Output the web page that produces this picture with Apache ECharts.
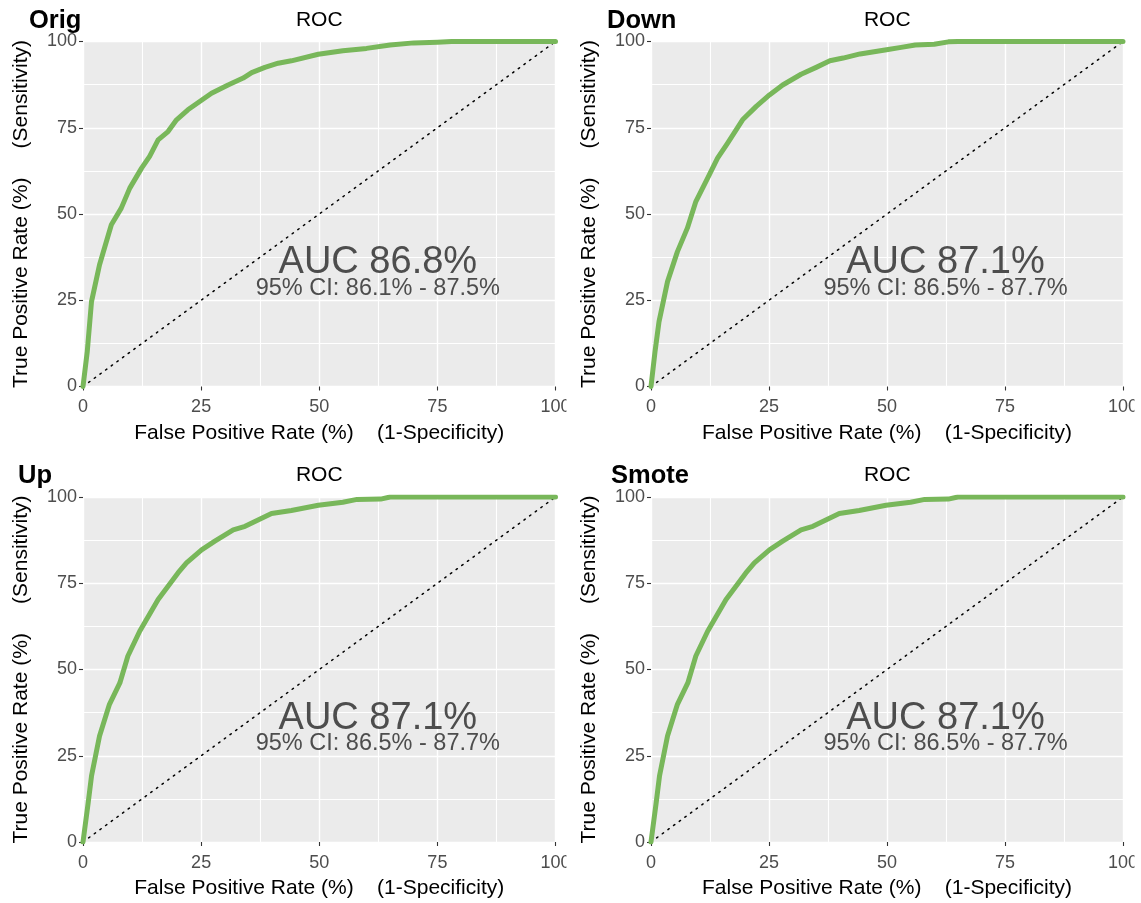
<!DOCTYPE html>
<html>
<head>
<meta charset="utf-8">
<title>ROC</title>
<script src="https://cdn.jsdelivr.net/npm/echarts@6/dist/echarts.min.js"></script>
<style>
  html, body { margin: 0; padding: 0; background: #fff; }
  #main { width: 1141px; height: 903px; }
</style>
</head>
<body>
<div id="main"></div>
<script>
// panel names and annotation texts
const panelNames = ['Orig', 'Down', 'Up', 'Smote'];
const aucText = ['AUC 86.8%', 'AUC 87.1%', 'AUC 87.1%', 'AUC 87.1%'];
const ciText = [
  '95% CI: 86.1% - 87.5%',
  '95% CI: 86.5% - 87.7%',
  '95% CI: 86.5% - 87.7%',
  '95% CI: 86.5% - 87.7%'
];
const tickValues = [0, 25, 50, 75, 100];

// ROC curves (false positive rate %, true positive rate %)
const origFpr = [0, 0.9, 1.8, 3.5, 6.0, 8.1, 9.9, 12.4, 14.1, 15.9, 18.0, 19.8, 22.2, 24.7, 27.2, 30.7, 33.9, 35.7, 38.5, 41.3, 44.1, 49.8, 55, 60, 65, 70, 75, 78, 100];
const origTpr = [0, 10.1, 24.6, 35.3, 46.9, 51.7, 57.5, 63.3, 66.7, 71.5, 73.9, 77.3, 80.2, 82.6, 85.0, 87.4, 89.4, 91.0, 92.5, 93.7, 94.4, 96.3, 97.3, 98.0, 99.0, 99.6, 99.8, 100, 100];

const downFpr = [0, 0.85, 1.7, 3.5, 5.6, 7.7, 9.5, 12.0, 14.1, 16.2, 19.4, 22.3, 25.1, 27.9, 31.8, 35.0, 37.9, 40.7, 44.3, 49.9, 53, 56, 60, 63, 65, 100];
const downTpr = [0, 10.1, 18.8, 30.4, 39.1, 45.9, 53.6, 60.4, 66.2, 70.5, 77.3, 81.2, 84.5, 87.4, 90.5, 92.5, 94.4, 95.2, 96.4, 97.6, 98.3, 99.0, 99.2, 99.9, 100, 100];

const upFpr = [0, 1.1, 1.8, 3.5, 5.6, 7.8, 9.5, 12.0, 15.9, 20.1, 21.9, 25.1, 27.9, 31.8, 34.3, 39.9, 44.1, 49.8, 55, 58, 63, 65, 100];
const upTpr = [0, 11.4, 19.1, 30.7, 39.9, 46.1, 53.9, 61.1, 70.3, 78.0, 80.9, 84.7, 87.2, 90.5, 91.5, 95.2, 96.1, 97.6, 98.5, 99.3, 99.4, 100, 100];

const smoteFpr = [0, 1.1, 1.8, 3.5, 5.6, 7.8, 9.5, 12.0, 15.9, 20.1, 21.9, 25.1, 27.9, 31.8, 34.3, 39.9, 44.1, 49.8, 55, 58, 63, 65, 100];
const smoteTpr = [0, 11.4, 19.1, 30.7, 39.9, 46.1, 53.9, 61.1, 70.3, 78.0, 80.9, 84.7, 87.2, 90.5, 91.5, 95.2, 96.1, 97.6, 98.5, 99.3, 99.4, 100, 100];

const curves = [
  [origFpr, origTpr],
  [downFpr, downTpr],
  [upFpr, upTpr],
  [smoteFpr, smoteTpr]
];

const FONT = '"Liberation Sans", Arial, sans-serif';
const GREEN = '#78B75A';

// layout of the 2x2 panels
const lefts = [83, 651];
const tops = [41.5, 497];
const W = 472.5;
const H = 345;
const tagLeft = [[29, 607], [18, 611]];

const grids = [], xAxes = [], yAxes = [], series = [], titles = [], graphics = [];

panelNames.forEach(function (name, i) {
  const col = i % 2, row = Math.floor(i / 2);
  const left = lefts[col], top = tops[row];
  grids.push({ left: left, top: top, width: W, height: H, show: true,
    backgroundColor: '#EBEBEB', borderWidth: 0 });

  const axisCommon = {
    gridIndex: i, type: 'value', min: tickValues[0], max: tickValues[tickValues.length - 1],
    interval: 25,
    axisLine: { show: false },
    axisTick: { show: true, length: 4, lineStyle: { color: '#333333', width: 1.1 } },
    splitLine: { show: true, lineStyle: { color: '#FFFFFF', width: 1.4 } },
    minorTick: { show: false, splitNumber: 2 },
    minorSplitLine: { show: true, lineStyle: { color: '#FFFFFF', width: 1.1 } },
    nameLocation: 'middle',
    nameTextStyle: { color: '#000', fontSize: 21, fontFamily: FONT },
    axisLabel: { color: '#4D4D4D', fontSize: 18, fontFamily: FONT }
  };

  xAxes.push(Object.assign({}, axisCommon, {
    name: 'False Positive Rate (%)    (1-Specificity)',
    nameGap: 36,
    axisLabel: Object.assign({}, axisCommon.axisLabel, { margin: 12 })
  }));
  yAxes.push(Object.assign({}, axisCommon, {
    name: 'True Positive Rate (%)     (Sensitivity)',
    nameGap: 51,
    axisLabel: Object.assign({}, axisCommon.axisLabel, { margin: 6 })
  }));

  // chance diagonal
  series.push({
    type: 'line', xAxisIndex: i, yAxisIndex: i, symbol: 'none', silent: true,
    data: [[tickValues[0], tickValues[0]], [tickValues[4], tickValues[4]]],
    lineStyle: { color: '#000', width: 1.5, type: [1.5, 5.5], cap: 'round' },
    z: 2
  });
  // ROC curve
  const fpr = curves[i][0], tpr = curves[i][1];
  series.push({
    type: 'line', xAxisIndex: i, yAxisIndex: i, symbol: 'none', silent: true,
    data: fpr.map(function (x, k) { return [x, tpr[k]]; }),
    lineStyle: { color: GREEN, width: 5, cap: 'round', join: 'round' },
    z: 3
  });
  // AUC annotation
  series.push({
    type: 'scatter', xAxisIndex: i, yAxisIndex: i, symbolSize: 0, silent: true,
    itemStyle: { opacity: 1 },
    data: [[62.4, 35.9]],
    label: { show: true, position: 'inside', formatter: aucText[i],
      color: '#4D4D4D', fontSize: 38, fontFamily: FONT },
    z: 4
  });
  series.push({
    type: 'scatter', xAxisIndex: i, yAxisIndex: i, symbolSize: 0, silent: true,
    itemStyle: { opacity: 1 },
    data: [[62.4, 28.5]],
    label: { show: true, position: 'inside', formatter: ciText[i],
      color: '#4D4D4D', fontSize: 23.5, fontFamily: FONT },
    z: 4
  });

  titles.push({
    text: 'ROC', left: left + W / 2, top: top - 32, textAlign: 'center',
    textStyle: { color: '#000', fontSize: 21, fontWeight: 'normal', fontFamily: FONT },
    padding: 0
  });
  titles.push({
    text: name, left: tagLeft[row][col], top: top - 34,
    textStyle: { color: '#000', fontSize: 25.5, fontWeight: 'bold', fontFamily: FONT },
    padding: 0
  });

  // clip the right-most tick label like the original device did
  graphics.push({
    type: 'rect', left: left + W + 11, top: top + H + 8,
    shape: { width: 12, height: 24 }, style: { fill: '#fff' }, z: 100
  });
});

const chart = echarts.init(document.getElementById('main'), null, { renderer: 'canvas' });
chart.setOption({
  backgroundColor: '#FFFFFF',
  animation: false,
  title: titles,
  grid: grids,
  xAxis: xAxes,
  yAxis: yAxes,
  series: series,
  graphic: graphics
});
</script>
</body>
</html>
